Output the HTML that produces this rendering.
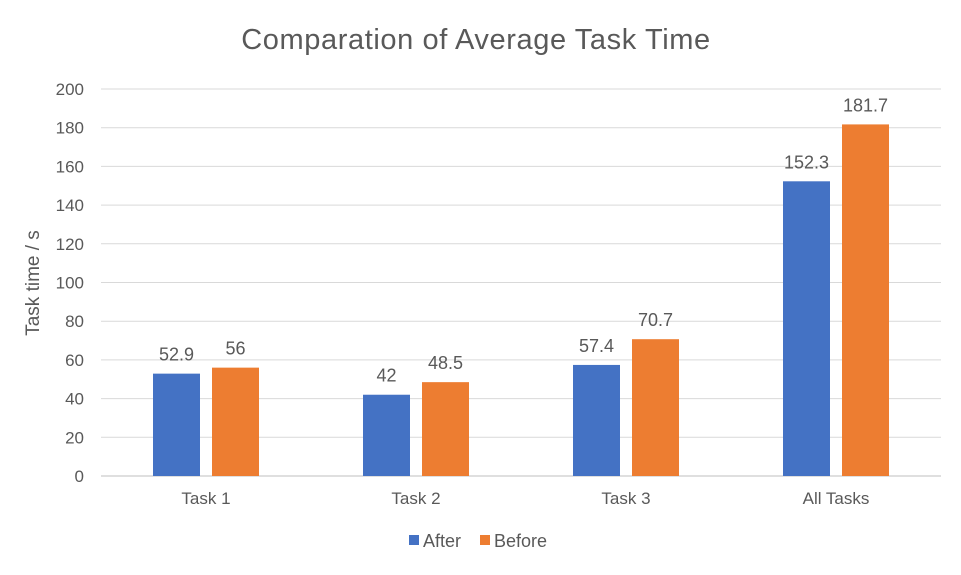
<!DOCTYPE html>
<html><head><meta charset="utf-8"><style>
body{margin:0;background:#fff;}
svg text{font-family:"Liberation Sans",sans-serif;fill:#595959;}
</style></head><body>
<svg id="chart" width="961" height="570" xmlns="http://www.w3.org/2000/svg">
<text x="476" y="49" font-size="29" letter-spacing="0.6" text-anchor="middle">Comparation of Average Task Time</text>
<text transform="translate(39,283) rotate(-90)" font-size="19" text-anchor="middle">Task time / s</text>
<g id="grid"></g><g id="bars"></g><g id="labels"></g>
<g>
<rect x="409" y="535" width="10" height="10" fill="#4472c4"/>
<text x="423" y="547" font-size="18">After</text>
<rect x="480" y="535" width="10" height="10" fill="#ed7d31"/>
<text x="494" y="547" font-size="18">Before</text>
</g>
</svg>
<script>
const categories=["Task 1","Task 2","Task 3","All Tasks"];
const afterValues=[52.9,42,57.4,152.3];
const beforeValues=[56,48.5,70.7,181.7];
const yTicks=[0,20,40,60,80,100,120,140,160,180,200];
const NS="http://www.w3.org/2000/svg";
const L=101,R=941,T=89,B=476,maxV=200;
const y=v=>B-(v/maxV)*(B-T);
const band=(R-L)/categories.length;
const cx=i=>L+band*(i+0.5);
function mk(tag,attrs,parent,txt){const e=document.createElementNS(NS,tag);for(const k in attrs)e.setAttribute(k,attrs[k]);if(txt!==undefined)e.textContent=txt;document.getElementById(parent).appendChild(e);return e;}
yTicks.forEach(t=>{
 const g=mk("line",{x1:L,x2:R,y1:y(t),y2:y(t),stroke:t===0?"#bfbfbf":"#d9d9d9","stroke-width":1},"grid");
 
 
 const tl=mk("text",{x:84,y:y(t)+6,"font-size":17,"text-anchor":"end"},"grid",String(t));
 
 
});
const bw=47,gap=12;
categories.forEach((c,i)=>{
 const xl=mk("text",{x:cx(i),y:504,"font-size":17,"text-anchor":"middle"},"labels",c);
 
 
 [[afterValues,"#4472c4",-1],[beforeValues,"#ed7d31",1]].forEach(([vals,col,s])=>{
  const x0=s<0?cx(i)-gap/2-bw:cx(i)+gap/2;
  const r=mk("rect",{x:x0,y:y(vals[i]),width:bw,height:B-y(vals[i]),fill:col},"bars");
  
  
  const v=mk("text",{x:x0+bw/2,y:y(vals[i])-13,"font-size":18,"text-anchor":"middle"},"labels",String(vals[i]));
  
  
 });
});
</script>
</body></html>
